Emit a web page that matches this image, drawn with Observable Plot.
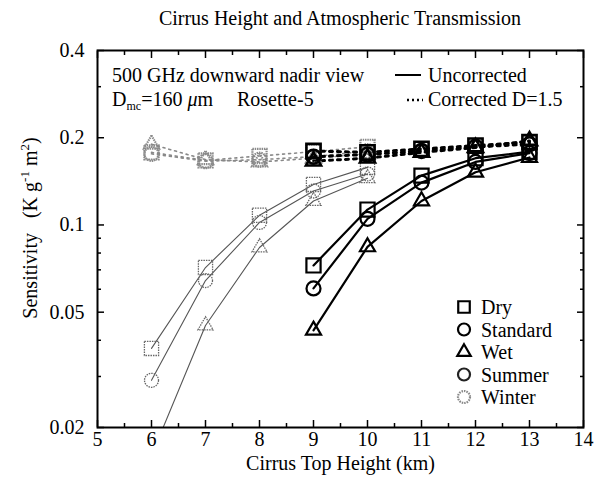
<!DOCTYPE html>
<html><head><meta charset="utf-8">
<script src="https://cdn.jsdelivr.net/npm/d3@7"></script>
<script src="https://cdn.jsdelivr.net/npm/@observablehq/plot@0.6"></script>
<style>
body{margin:0;background:#fff;font-family:"Liberation Serif",serif;}
#title{height:30px;width:583px;padding-left:97px;text-align:center;font-size:20px;line-height:20px;padding-top:8px;box-sizing:border-box;color:#000;}
svg{display:block;}
</style></head><body>
<div id="title">Cirrus Height and Atmospheric Transmission</div>
<div id="chart"></div>
<script>
// x values (cirrus top height, km)
const heightsLow = [6, 7, 8, 9, 10];
const heightsHigh = [9, 10, 11, 12, 13];
// gray (low) group, uncorrected
const lowSquareUnc = [0.0375, 0.0713, 0.108, 0.138, 0.158];
const lowCircleUnc = [0.0291, 0.0643, 0.102, 0.131, 0.150];
const lowTriangleUnc = [0.016, 0.045, 0.0836, 0.121, 0.145];
// gray (low) group, corrected
const lowSquareCor = [0.178, 0.167, 0.173, 0.179, 0.186];
const lowCircleCor = [0.176, 0.166, 0.168, 0.172, 0.180];
const lowTriangleCor = [0.190, 0.168, 0.165, 0.170, 0.176];
// black (high) group, uncorrected
const highSquareUnc = [0.0725, 0.113, 0.148, 0.170, 0.179];
const highCircleUnc = [0.0604, 0.105, 0.140, 0.165, 0.177];
const highTriangleUnc = [0.0433, 0.084, 0.121, 0.152, 0.171];
// black (high) group, corrected
const highSquareCor = [0.180, 0.178, 0.183, 0.188, 0.193];
const highCircleCor = [0.172, 0.175, 0.180, 0.186, 0.190];
const highTriangleCor = [0.166, 0.170, 0.178, 0.185, 0.195];

const xTicks = [5, 6, 7, 8, 9, 10, 11, 12, 13, 14];
const xMinor = [5.5, 6.5, 7.5, 8.5, 9.5, 10.5, 11.5, 12.5, 13.5];
const yTicks = [0.02, 0.05, 0.1, 0.2, 0.4];
const yMinor = [0.03, 0.04, 0.06, 0.07, 0.08, 0.09, 0.3];
const legendNames = ["Dry", "Standard", "Wet", "Summer", "Winter"];
const legendShapes = ["square", "circle", "triangle", "circle", "circle"];

function rows(group, kind, shape, xs, ys) {
  return xs.map((x, i) => ({group, kind, shape, id: group + kind + shape, x, y: ys[i]}));
}
const data = [
  ...rows("low", "unc", "square", heightsLow, lowSquareUnc),
  ...rows("low", "unc", "circle", heightsLow, lowCircleUnc),
  ...rows("low", "unc", "triangle", heightsLow, lowTriangleUnc),
  ...rows("low", "cor", "square", heightsLow, lowSquareCor),
  ...rows("low", "cor", "circle", heightsLow, lowCircleCor),
  ...rows("low", "cor", "triangle", heightsLow, lowTriangleCor),
  ...rows("high", "unc", "square", heightsHigh, highSquareUnc),
  ...rows("high", "unc", "circle", heightsHigh, highCircleUnc),
  ...rows("high", "unc", "triangle", heightsHigh, highTriangleUnc),
  ...rows("high", "cor", "square", heightsHigh, highSquareCor),
  ...rows("high", "cor", "circle", heightsHigh, highCircleCor),
  ...rows("high", "cor", "triangle", heightsHigh, highTriangleCor)
];
const sel = (g, k, s) => data.filter(d => d.group === g && d.kind === k && (!s || d.shape === s));
const rFor = {square: 8, circle: 7, triangle: 5.6};

const lineStyles = {
  lowunc: {stroke: "#555", strokeWidth: 1.1},
  lowcor: {stroke: "#888", strokeWidth: 1.6, strokeDasharray: "2,4"},
  highunc: {stroke: "#000", strokeWidth: 2.2},
  highcor: {stroke: "#000", strokeWidth: 3, strokeDasharray: "3,5"}
};
const dotStyles = {
  lowunc: {stroke: "#666", strokeWidth: 1.3, strokeDasharray: "1.5,1"},
  lowcor: {stroke: "#8a8a8a", strokeWidth: 2.2, strokeDasharray: "1.5,0.8"},
  highunc: {stroke: "#000", strokeWidth: 2.2},
  highcor: {stroke: "#000", strokeWidth: 2.6}
};

const marks = [];
for (const key of ["lowunc", "lowcor", "highunc", "highcor"]) {
  const g = key.startsWith("low") ? "low" : "high";
  const k = key.slice(g.length);
  marks.push(Plot.line(sel(g, k), {x: "x", y: "y", z: "id", clip: true, ...lineStyles[key]}));
}
for (const key of ["lowunc", "lowcor", "highunc", "highcor"]) {
  const g = key.startsWith("low") ? "low" : "high";
  const k = key.slice(g.length);
  for (const s of ["square", "circle", "triangle"]) {
    marks.push(Plot.dot(sel(g, k, s), {x: "x", y: "y", symbol: s, r: rFor[s], fill: "none", clip: true, ...dotStyles[key]}));
  }
}

const svg = Plot.plot({
  width: 599, height: 455,
  marginLeft: 97, marginRight: 16, marginTop: 20, marginBottom: 58,
  style: {fontFamily: "Liberation Serif", fontSize: "20px", color: "#000", background: "#fff"},
  x: {domain: [5, 14]},
  y: {type: "log", domain: [0.02, 0.4]},
  marks: [
    Plot.axisX({ticks: xTicks, tickSize: 0, tickPadding: 4, tickFormat: d => String(d), label: null, fontSize: 20}),
    Plot.axisY({ticks: yTicks, tickSize: 0, tickPadding: 13, tickFormat: d => String(d), label: null, fontSize: 20}),
    Plot.axisX({anchor: "bottom", ticks: xTicks, tickSize: -7, tickFormat: () => "", label: null, strokeWidth: 1.5}),
    Plot.axisX({anchor: "top", ticks: xTicks, tickSize: -7, tickFormat: () => "", label: null, strokeWidth: 1.5}),
    Plot.axisX({anchor: "bottom", ticks: xMinor, tickSize: -4, tickFormat: () => "", label: null, strokeWidth: 1.5}),
    Plot.axisX({anchor: "top", ticks: xMinor, tickSize: -4, tickFormat: () => "", label: null, strokeWidth: 1.5}),
    Plot.axisY({anchor: "left", ticks: yTicks, tickSize: -7, tickFormat: () => "", label: null, strokeWidth: 1.5}),
    Plot.axisY({anchor: "right", ticks: yTicks, tickSize: -7, tickFormat: () => "", label: null, strokeWidth: 1.5}),
    Plot.axisY({anchor: "left", ticks: yMinor, tickSize: -4, tickFormat: () => "", label: null, strokeWidth: 1.5}),
    Plot.axisY({anchor: "right", ticks: yMinor, tickSize: -4, tickFormat: () => "", label: null, strokeWidth: 1.5}),
    ...marks,
    Plot.frame({stroke: "#000", strokeWidth: 2}),
    Plot.text(["Cirrus Top Height (km)"], {frameAnchor: "bottom", dy: 42, text: d => d, fontSize: 20, fill: "#000"})
  ]
});

// annotations drawn in SVG space
const S = d3.select(svg);
const serif = "Liberation Serif";
// y-axis label with superscripts
const yl = S.append("text").attr("transform", "translate(37,198) rotate(-90)")
  .attr("text-anchor", "middle").attr("font-family", serif).attr("font-size", 20).attr("fill", "#000");
yl.append("tspan").text("Sensitivity   (K g");
yl.append("tspan").attr("font-size", 13).attr("dy", -8).text("-1");
yl.append("tspan").attr("dy", 8).text(" m");
yl.append("tspan").attr("font-size", 13).attr("dy", -8).text("2");
yl.append("tspan").attr("dy", 8).text(")");

// top-left annotation
const ann = S.append("g").attr("font-family", serif).attr("font-size", 20).attr("fill", "#000").attr("text-anchor", "start");
ann.append("text").attr("x", 112).attr("y", 52).text("500 GHz downward nadir view");
const t2 = ann.append("text").attr("x", 112).attr("y", 76);
t2.append("tspan").text("D");
t2.append("tspan").attr("font-size", 12).attr("dy", 4).text("mc");
t2.append("tspan").attr("dy", -4).text("=160 ");
t2.append("tspan").attr("font-style", "italic").text("\u03bc");
t2.append("tspan").text("m");
ann.append("text").attr("x", 237).attr("y", 76).text("Rosette-5");
ann.append("line").attr("x1", 395).attr("x2", 421).attr("y1", 45).attr("y2", 45).attr("stroke", "#000").attr("stroke-width", 2);
ann.append("text").attr("x", 428).attr("y", 52).text("Uncorrected");
ann.append("line").attr("x1", 407).attr("x2", 423).attr("y1", 70).attr("y2", 70).attr("stroke", "#000").attr("stroke-width", 2.5).attr("stroke-dasharray", "2,3");
ann.append("text").attr("x", 428).attr("y", 76).text("Corrected D=1.5");

// symbol legend (bottom-right)
const symType = {square: d3.symbolSquare, circle: d3.symbolCircle, triangle: d3.symbolTriangle};
const legendStroke = ["#000", "#000", "#000", "#222", "#888"];
const legendDash = [null, null, null, null, "1.5,1"];
const lg = S.append("g").attr("font-family", serif).attr("font-size", 20).attr("fill", "#000").attr("text-anchor", "start");
legendNames.forEach((name, i) => {
  const y = 277 + i * 22.5;
  const s = legendShapes[i];
  const r = s === "square" ? 6.5 : s === "circle" ? 6 : 5;
  lg.append("path").attr("transform", `translate(464,${y})`)
    .attr("d", d3.symbol(symType[s], r * r * Math.PI)())
    .attr("fill", "none").attr("stroke", legendStroke[i]).attr("stroke-width", 2.2)
    .attr("stroke-dasharray", legendDash[i]);
  lg.append("text").attr("x", 481).attr("y", y + 7).text(name);
});

document.getElementById("chart").appendChild(svg);
</script>
</body></html>
